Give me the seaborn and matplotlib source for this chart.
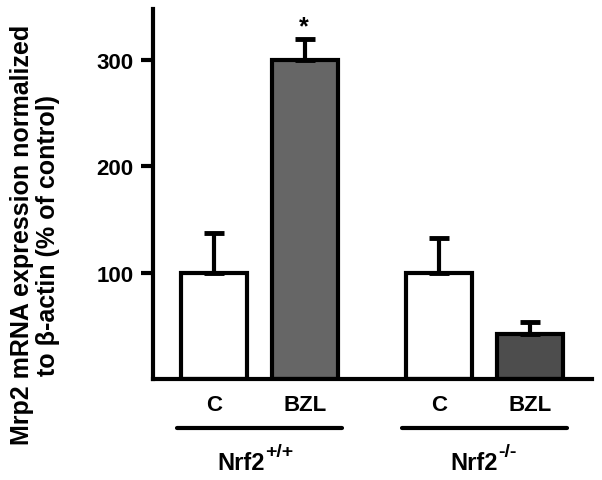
import numpy as np
import pandas as pd
import matplotlib
matplotlib.use("Agg")
import matplotlib.pyplot as plt
import matplotlib.transforms as mtransforms
import seaborn as sns

# data
groups = ["Nrf2+/+", "Nrf2+/+", "Nrf2-/-", "Nrf2-/-"]
treatments = ["C", "BZL", "C", "BZL"]
positions = [0.0, 1.0, 2.47, 3.47]
values = [100, 300, 100, 42]
errors = [37, 20, 33, 12]
bar_colors = ["#ffffff", "#666666", "#ffffff", "#4d4d4d"]

sns.set_theme(style="ticks")
plt.rcParams["font.family"] = ["Liberation Sans", "DejaVu Sans"]
plt.rcParams["font.weight"] = "bold"
plt.rcParams["text.color"] = "black"
plt.rcParams["axes.labelcolor"] = "black"
plt.rcParams["xtick.color"] = "black"
plt.rcParams["ytick.color"] = "black"

df = pd.DataFrame({
    "pos": positions,
    "value": values,
    "bar": [g + " " + t for g, t in zip(groups, treatments)],
})
palette = dict(zip(df["bar"], bar_colors))

fig = plt.figure(figsize=(6.02, 4.81), dpi=100)
ax = fig.add_axes([153 / 602, 1 - 380 / 481, (592 - 153) / 602, 370 / 481])

sns.barplot(data=df, x="pos", y="value", hue="bar", palette=palette,
            native_scale=True, dodge=False, width=0.725, errorbar=None,
            edgecolor="black", linewidth=3, legend=False, ax=ax)

ax.errorbar(positions, values, yerr=[np.zeros(len(errors)), errors],
            fmt="none", ecolor="black", elinewidth=3, capsize=7, capthick=3.5,
            zorder=1)

ax.set_xlim(-0.67, 4.15)
ax.set_ylim(0, 348)
ax.set_yticks([100, 200, 300])
ax.set_xticks(positions)
ax.set_xticklabels(treatments, fontsize=16, fontweight="bold")
ax.set_yticklabels([100, 200, 300], fontsize=16, fontweight="bold")
ax.tick_params(axis="y", length=9, width=3, pad=5, colors="black")
ax.tick_params(axis="x", length=0, pad=11, colors="black")
ax.set_xlabel("")
ax.set_ylabel("")
sns.despine(ax=ax)
for side in ["left", "bottom"]:
    ax.spines[side].set_linewidth(3)
    ax.spines[side].set_color("black")

# significance mark
ax.text(positions[1] - 0.02, 332, "*", ha="center", va="center",
        fontsize=18, fontweight="bold")

# genotype brackets under the treatment labels
trans = mtransforms.blended_transform_factory(ax.transData, ax.transAxes)
group_names = ["Nrf2", "Nrf2"]
superscripts = ["+/+", "-/-"]
name_shift = [0.06, 0.15]
for i in range(2):
    center = (positions[2 * i] + positions[2 * i + 1]) / 2
    ax.plot([center - 0.91, center + 0.91], [-0.132, -0.132], color="black",
            lw=3, transform=trans, clip_on=False)
    ax.text(center + name_shift[i], -0.243, group_names[i], ha="right",
            va="baseline", fontsize=17, fontweight="bold", transform=trans)
    ax.text(center + name_shift[i], -0.208, superscripts[i], ha="left",
            va="baseline", fontsize=14, fontweight="bold", transform=trans)

fig.text(0.058, 0.511,
         "Mrp2 mRNA expression normalized\nto \u03b2-actin (% of control)",
         rotation=90, ha="center", va="center", multialignment="center",
         fontsize=18, fontweight="bold", linespacing=1.1)

fig.savefig("out.png", dpi=100)
